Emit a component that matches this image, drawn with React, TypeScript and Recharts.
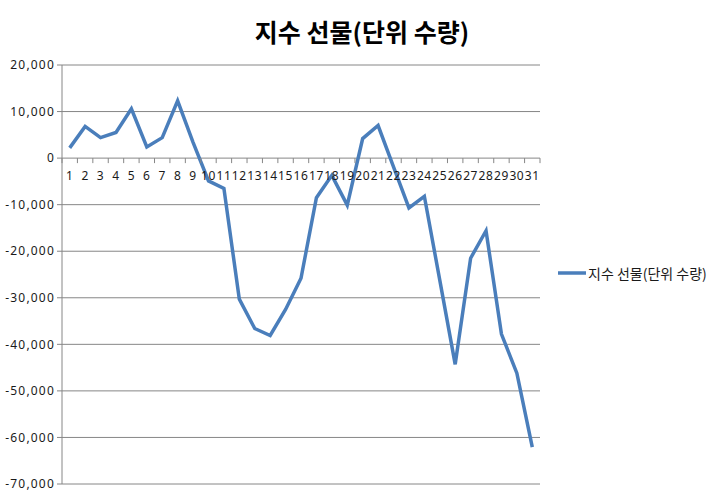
import React from "react";
import { LineChart, Line, XAxis, YAxis, CartesianGrid, Legend } from "recharts";

const TITLE = "지수 선물(단위 수량)";
const SERIES_NAME = "지수 선물(단위 수량)";
const days = [
  "1","2","3","4","5","6","7","8","9","10","11","12","13","14","15","16",
  "17","18","19","20","21","22","23","24","25","26","27","28","29","30","31",
];
const values = [
  2200, 6800, 4400, 5500, 10600, 2400, 4400, 12300, 3400, -4900, -6500,
  -30300, -36600, -38100, -32500, -25800, -8500, -3700, -10100, 4200, 7000,
  -1900, -10700, -8200, -26200, -44300, -21500, -15600, -37800, -46200, -62100,
];
const yTicks = [20000, 10000, 0, -10000, -20000, -30000, -40000, -50000, -60000, -70000];
const Y_MIN = -70000;
const Y_MAX = 20000;

const data = days.map((d, i) => ({ day: d, value: values[i] }));

const W = 721;
const H = 491;
const PLOT_LEFT = 62;
const PLOT_RIGHT = 540;
const PLOT_TOP = 65;
const PLOT_BOTTOM = 484;
const Y_AXIS_W = 60;
const X_AXIS_H = 2;
const BAND = (PLOT_RIGHT - PLOT_LEFT) / days.length;
const ZERO_Y = PLOT_TOP + ((PLOT_BOTTOM - PLOT_TOP) * (Y_MAX - 0)) / (Y_MAX - Y_MIN);

const LINE_COLOR = "#4A7EBB";
const GRID_COLOR = "#868686";
const FONT = "'Noto Sans', 'Noto Sans CJK KR', sans-serif";

const fmt = (v: number) => v.toLocaleString("en-US");

const XTick = (props: any) => {
  const { x, payload, index } = props;
  const isLast = index === days.length - 1;
  return (
    <g>
      <line x1={x - BAND / 2} x2={x - BAND / 2} y1={ZERO_Y} y2={ZERO_Y + 5} stroke={GRID_COLOR} />
      {isLast && (
        <line x1={x + BAND / 2} x2={x + BAND / 2} y1={ZERO_Y} y2={ZERO_Y + 5} stroke={GRID_COLOR} />
      )}
      <text
        x={x}
        y={ZERO_Y + 22}
        textAnchor="middle"
        fontSize={12}
        fontFamily={FONT}
        fill="#1a1a1a"
        letterSpacing={0.6}
      >
        {payload.value}
      </text>
    </g>
  );
};

const LegendContent = () => (
  <div style={{ display: "flex", alignItems: "center", fontFamily: "'Noto Sans CJK KR', sans-serif", fontSize: 14, color: "#1a1a1a", whiteSpace: "nowrap" }}>
    <svg width={28} height={6} style={{ marginRight: 2 }}>
      <line x1={0} x2={28} y1={3} y2={3} stroke={LINE_COLOR} strokeWidth={3.5} />
    </svg>
    <span>{SERIES_NAME}</span>
  </div>
);

export default function App() {
  return (
    <div style={{ position: "absolute", left: 0, top: 0, width: W, height: H, background: "#fff" }}>
      <div
        style={{
          position: "absolute",
          left: 0,
          top: 12,
          width: 724,
          textAlign: "center",
          fontFamily: "'Noto Sans CJK KR', sans-serif",
          fontWeight: 700,
          fontSize: 25,
          color: "#000",
          lineHeight: "38px",
        }}
      >
        {TITLE}
      </div>
      <LineChart
        width={W}
        height={H}
        data={data}
        margin={{ top: PLOT_TOP, right: W - PLOT_RIGHT, bottom: H - PLOT_BOTTOM - X_AXIS_H, left: PLOT_LEFT - Y_AXIS_W }}
      >
        <CartesianGrid vertical={false} stroke={GRID_COLOR} strokeWidth={1} />
        <XAxis
          dataKey="day"
          height={X_AXIS_H}
          axisLine={false}
          tickLine={false}
          interval={0}
          padding={{ left: BAND / 2, right: BAND / 2 }}
          tick={<XTick />}
        />
        <YAxis
          width={Y_AXIS_W}
          domain={[Y_MIN, Y_MAX]}
          ticks={yTicks}
          interval={0}
          tickFormatter={fmt}
          axisLine={{ stroke: GRID_COLOR }}
          tickLine={{ stroke: GRID_COLOR }}
          tickSize={5}
          tickMargin={2}
          tick={{ fontSize: 12, fontFamily: FONT, fill: "#1a1a1a", letterSpacing: 1.2 }}
        />
        <Legend
          layout="vertical"
          align="center"
          verticalAlign="middle"
          content={<LegendContent />}
          wrapperStyle={{ position: "absolute", left: 558, top: 263, width: 160 }}
        />
        <Line
          type="linear"
          dataKey="value"
          name={SERIES_NAME}
          stroke={LINE_COLOR}
          strokeWidth={3.5}
          dot={false}
          activeDot={false}
          isAnimationActive={false}
        />
      </LineChart>
    </div>
  );
}
